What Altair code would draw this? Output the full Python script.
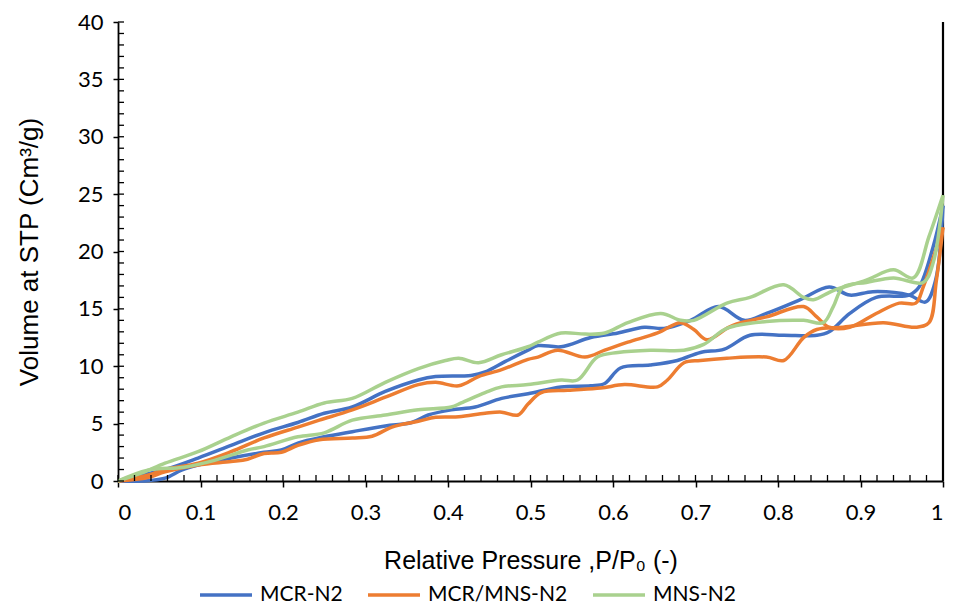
import altair as alt
import pandas as pd

series_names = ["MCR-N2", "MCR/MNS-N2", "MNS-N2"]
series_colors = ["#4472C4", "#ED7D31", "#A9D18E"]

# MCR-N2
mcr_ads_p = [0, 0.03, 0.057, 0.077, 0.097, 0.137, 0.177, 0.198, 0.218, 0.25, 0.284, 0.324, 0.356, 0.376, 0.404, 0.433, 0.465, 0.497, 0.537, 0.573, 0.59, 0.609, 0.645, 0.678, 0.706, 0.735, 0.766, 0.807, 0.847, 0.862, 0.887, 0.919, 0.959, 0.971, 0.988, 1.0]
mcr_ads_v = [0, 0.0, 0.25, 0.95, 1.4, 2.0, 2.5, 2.7, 3.3, 3.85, 4.3, 4.8, 5.1, 5.75, 6.2, 6.45, 7.2, 7.6, 8.2, 8.3, 8.5, 9.85, 10.1, 10.5, 11.2, 11.5, 12.7, 12.7, 12.7, 13.0, 14.6, 16.0, 16.2, 16.9, 20.4, 24.0]
mcr_des_p = [0, 0.02, 0.057, 0.097, 0.137, 0.177, 0.218, 0.25, 0.284, 0.324, 0.364, 0.385, 0.428, 0.445, 0.469, 0.497, 0.509, 0.537, 0.573, 0.606, 0.638, 0.662, 0.694, 0.728, 0.759, 0.786, 0.827, 0.862, 0.887, 0.915, 0.959, 0.979, 0.991, 1.0]
mcr_des_v = [0, 0.35, 1.0, 2.0, 3.1, 4.2, 5.1, 5.9, 6.45, 7.8, 8.8, 9.1, 9.2, 9.5, 10.4, 11.4, 11.8, 11.7, 12.5, 12.9, 13.4, 13.3, 14.0, 15.2, 14.0, 14.6, 15.8, 16.9, 16.2, 16.5, 16.2, 15.6, 17.5, 24.0]

# MCR/MNS-N2
mix_ads_p = [0, 0.036, 0.057, 0.097, 0.137, 0.157, 0.177, 0.198, 0.218, 0.244, 0.284, 0.308, 0.332, 0.364, 0.385, 0.413, 0.445, 0.465, 0.485, 0.497, 0.513, 0.545, 0.585, 0.614, 0.654, 0.666, 0.686, 0.706, 0.738, 0.786, 0.807, 0.831, 0.847, 0.879, 0.928, 0.967, 0.983, 0.992, 1.0]
mix_ads_v = [0, 0.3, 0.8, 1.4, 1.7, 1.9, 2.4, 2.5, 3.1, 3.6, 3.75, 3.9, 4.7, 5.2, 5.55, 5.6, 5.9, 6.0, 5.75, 6.7, 7.7, 7.9, 8.1, 8.4, 8.2, 8.8, 10.3, 10.5, 10.7, 10.8, 10.5, 12.5, 13.2, 13.4, 13.8, 13.4, 13.8, 17.5, 22.1]
mix_des_p = [0, 0.036, 0.057, 0.097, 0.137, 0.177, 0.218, 0.244, 0.284, 0.324, 0.364, 0.385, 0.413, 0.437, 0.465, 0.497, 0.509, 0.533, 0.566, 0.59, 0.618, 0.654, 0.682, 0.698, 0.714, 0.738, 0.75, 0.786, 0.831, 0.847, 0.862, 0.887, 0.919, 0.947, 0.967, 0.976, 1.0]
mix_des_v = [0, 0.5, 1.0, 1.55, 2.55, 3.75, 4.7, 5.3, 6.2, 7.3, 8.4, 8.6, 8.3, 9.1, 9.7, 10.6, 10.8, 11.4, 10.8, 11.4, 12.1, 12.9, 13.8, 13.2, 12.3, 13.3, 13.7, 14.3, 15.2, 14.3, 13.4, 13.4, 14.6, 15.5, 15.5, 16.9, 22.1]

# MNS-N2
mns_ads_p = [0, 0.036, 0.08, 0.117, 0.157, 0.177, 0.218, 0.25, 0.284, 0.324, 0.364, 0.404, 0.416, 0.445, 0.465, 0.497, 0.537, 0.557, 0.581, 0.606, 0.645, 0.686, 0.71, 0.738, 0.786, 0.831, 0.855, 0.867, 0.879, 0.907, 0.94, 0.976, 0.988, 1.0]
mns_ads_v = [0, 0.95, 1.2, 1.8, 2.7, 3.0, 3.85, 4.2, 5.3, 5.75, 6.2, 6.45, 6.8, 7.7, 8.2, 8.4, 8.8, 8.8, 10.8, 11.2, 11.4, 11.4, 11.9, 13.3, 13.9, 14.0, 13.8, 15.2, 16.9, 17.3, 17.7, 17.3, 19.0, 24.9]
mns_des_p = [0, 0.029, 0.057, 0.097, 0.137, 0.177, 0.218, 0.25, 0.284, 0.324, 0.364, 0.397, 0.413, 0.437, 0.465, 0.497, 0.509, 0.537, 0.566, 0.59, 0.618, 0.658, 0.682, 0.698, 0.738, 0.766, 0.807, 0.831, 0.843, 0.867, 0.907, 0.94, 0.964, 0.983, 1.0]
mns_des_v = [0, 0.7, 1.55, 2.55, 3.85, 5.05, 6.0, 6.8, 7.2, 8.6, 9.8, 10.5, 10.7, 10.3, 11.0, 11.7, 12.1, 12.9, 12.8, 12.9, 13.8, 14.6, 14.0, 14.0, 15.5, 16.0, 17.1, 16.0, 15.8, 16.6, 17.5, 18.4, 17.7, 21.3, 24.9]

x_major = [0, 0.1, 0.2, 0.3, 0.4, 0.5, 0.6, 0.7, 0.8, 0.9, 1.0]
x_minor = [round(i * 0.02, 2) for i in range(51)]
y_major = [0, 5, 10, 15, 20, 25, 30, 35, 40]
y_minor = list(range(41))
right_edge_p = [1.0]
right_edge_v = [0, 40]

branches = [
    ("MCR-N2", "ads", mcr_ads_p, mcr_ads_v),
    ("MCR-N2", "des", mcr_des_p, mcr_des_v),
    ("MCR/MNS-N2", "ads", mix_ads_p, mix_ads_v),
    ("MCR/MNS-N2", "des", mix_des_p, mix_des_v),
    ("MNS-N2", "ads", mns_ads_p, mns_ads_v),
    ("MNS-N2", "des", mns_des_p, mns_des_v),
]
rows = []
for s, b, ps, vs in branches:
    for p, v in zip(ps, vs):
        rows.append({"series": s, "branch": s + b, "p": p, "v": v})
df = pd.DataFrame(rows)

xscale = alt.Scale(domain=[0, 1], nice=False, zero=False)
yscale = alt.Scale(domain=[0, 40], nice=False)

tick_font = "Lato"
title_font = "Liberation Sans"

x_axis = alt.Axis(values=x_major, format="~g", title="Relative Pressure ,P/P\u2080 (-)",
                  grid=False, domainColor="black", domainWidth=1.8,
                  tickColor="black", tickSize=6, tickWidth=1.5,
                  labelFont=tick_font, labelFontSize=22, labelColor="black",
                  labelPadding=15, titleFont=title_font, titleFontSize=25,
                  titleFontWeight="normal", titleColor="black", titlePadding=25)
y_axis = alt.Axis(values=y_major, title="Volume at STP (Cm\u00b3/g)",
                  grid=False, domainColor="black", domainWidth=1.8,
                  tickColor="black", tickSize=5, tickWidth=1.5,
                  labelFont=tick_font, labelFontSize=22, labelColor="black",
                  labelPadding=10, titleFont=title_font, titleFontSize=26,
                  titleFontWeight="normal", titleColor="black", titlePadding=35)

lines = alt.Chart(df).mark_line(interpolate="catmull-rom", strokeWidth=3.5).encode(
    x=alt.X("p:Q", scale=xscale, axis=x_axis),
    y=alt.Y("v:Q", scale=yscale, axis=y_axis),
    color=alt.Color("series:N",
                    scale=alt.Scale(domain=series_names, range=series_colors),
                    legend=alt.Legend(title=None, orient="none", direction="horizontal",
                                      legendX=80, legendY=545, padding=0, symbolType="stroke",
                                      symbolSize=2704, symbolStrokeWidth=3.5,
                                      labelFont=tick_font, labelFontSize=21, labelColor="black",
                                      labelOffset=6, columnPadding=18)),
    detail="branch:N",
    order="p:Q",
)

ymin = alt.Chart(pd.DataFrame({"v": y_minor})).mark_rule(color="black", strokeWidth=1.3).encode(
    y=alt.Y("v:Q", scale=yscale, axis=y_axis), x=alt.value(0), x2=alt.value(6))
xmin = alt.Chart(pd.DataFrame({"p": x_minor})).mark_rule(color="black", strokeWidth=1.3).encode(
    x=alt.X("p:Q", scale=xscale, axis=x_axis), y=alt.value(459), y2=alt.value(453))
redge = alt.Chart(pd.DataFrame({"p": right_edge_p, "v": [right_edge_v[0]], "v2": [right_edge_v[1]]})).mark_rule(
    color="black", strokeWidth=2.2).encode(
    x=alt.X("p:Q", scale=xscale, axis=x_axis),
    y=alt.Y("v:Q", scale=yscale, axis=y_axis), y2="v2:Q")

chart = alt.layer(redge, lines, ymin, xmin).properties(
    width=825, height=459,
    autosize=alt.AutoSizeParams(type="none"),
    padding={"left": 110, "top": 14, "right": 4, "bottom": 124},
).configure(background="white").configure_view(stroke=None)

chart.save("out.html", embed_options={"renderer": "svg", "actions": False})
